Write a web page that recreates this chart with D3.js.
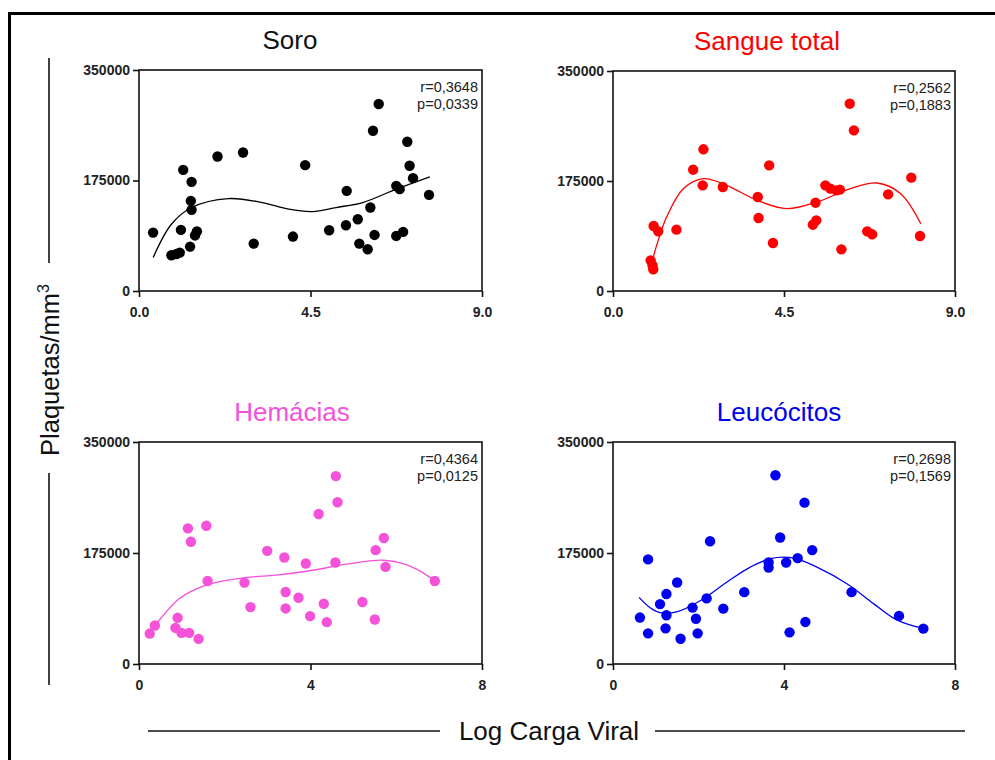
<!DOCTYPE html>
<html>
<head>
<meta charset="utf-8">
<script src="https://cdn.jsdelivr.net/npm/d3@7"></script>
<style>
  body { margin: 0; background: #fff; }
  text { font-family: Arial, "Liberation Sans", sans-serif; }
</style>
</head>
<body>
<div id="chart"></div>
<script>
// values (x = log viral load, y = platelets/mm3)
const soroX = [0.37, 0.85, 0.98, 1.07, 1.10, 1.16, 1.34, 1.36, 1.38, 1.38, 1.47, 1.52, 2.06, 2.73, 3.01, 4.04, 4.36, 4.99, 5.43, 5.45, 5.74, 5.78, 6.00, 6.07, 6.18, 6.14, 6.29, 6.75, 6.93, 6.75, 6.84, 7.04, 7.10, 7.19, 7.61];
const soroY = [92500, 56600, 58500, 60800, 96800, 191900, 70300, 142700, 172900, 128500, 88000, 94500, 213000, 219400, 75100, 86200, 199300, 96200, 104200, 158600, 113700, 75100, 66100, 132200, 88800, 253800, 296100, 87200, 93600, 166500, 161300, 236300, 198300, 178700, 152300];
const soroFitX = [0.37, 0.85, 1.38, 2.35, 3.23, 3.93, 4.55, 5.17, 5.87, 6.75, 7.63];
const soroFitY = [52900, 105700, 132200, 146400, 140100, 129500, 125800, 132200, 140100, 161300, 180800];

const sangueX = [0.99, 1.04, 1.06, 1.07, 1.19, 1.67, 2.11, 2.38, 2.36, 2.89, 3.81, 3.83, 4.11, 4.21, 5.26, 5.35, 5.33, 5.59, 5.72, 5.88, 5.97, 6.01, 6.23, 6.34, 6.69, 6.82, 7.24, 7.85, 8.08];
const sangueY = [48800, 40800, 34500, 103400, 94900, 97600, 193000, 225400, 168100, 165500, 149500, 116100, 199900, 76400, 105500, 112400, 140500, 168100, 162800, 160100, 161200, 66300, 298000, 255600, 94900, 90200, 153800, 180300, 87500];
const sangueFitX = [1.06, 1.19, 1.41, 1.85, 2.38, 2.99, 3.79, 4.58, 5.37, 6.25, 6.95, 7.57, 8.10];
const sangueFitY = [54100, 80600, 117700, 162800, 178700, 168100, 144200, 131000, 141600, 162800, 171800, 154800, 107100];

const hemX = [0.25, 0.37, 0.90, 0.85, 0.99, 1.17, 1.39, 1.14, 1.21, 1.57, 1.60, 2.46, 2.60, 2.99, 3.39, 3.42, 3.42, 3.72, 3.89, 3.99, 4.19, 4.31, 4.38, 4.58, 4.59, 4.63, 5.21, 5.50, 5.52, 5.71, 5.75, 6.90];
const hemY = [48000, 60700, 72800, 57000, 49100, 49100, 39600, 213800, 192700, 218000, 130900, 128300, 89700, 178400, 167900, 113500, 87600, 104500, 158400, 75500, 236500, 95000, 66000, 160000, 296200, 255000, 97700, 70200, 179500, 198600, 153100, 130900];
const hemFitX = [0.21, 0.52, 0.92, 1.31, 1.78, 2.48, 3.26, 4.05, 4.83, 5.69, 6.16, 6.55, 6.90];
const hemFitY = [46500, 72900, 101900, 117700, 128300, 136200, 140400, 147800, 157300, 163600, 158400, 146800, 130900];

const leucoX = [0.63, 0.82, 0.82, 1.10, 1.25, 1.25, 1.23, 1.50, 1.58, 1.86, 1.94, 1.98, 2.19, 2.27, 2.58, 3.07, 3.64, 3.64, 3.80, 3.91, 4.05, 4.13, 4.32, 4.48, 4.50, 4.66, 5.58, 6.69, 7.26];
const leucoY = [73200, 164900, 48300, 94400, 110300, 76900, 56200, 128500, 39800, 88900, 71400, 48300, 103400, 193500, 87300, 113300, 160000, 152000, 297500, 199400, 160000, 49900, 166900, 254400, 66300, 179600, 113300, 75800, 55700];
const leucoFitX = [0.61, 0.86, 1.10, 1.49, 2.04, 2.66, 3.21, 3.68, 4.23, 4.77, 5.48, 6.11, 6.58, 7.04, 7.26];
const leucoFitY = [105000, 89100, 81100, 82200, 99700, 128900, 152700, 166000, 167000, 152700, 126200, 94400, 71600, 59900, 57300];

const titles = ["Soro", "Sangue total", "Hemácias", "Leucócitos"];
const colors = ["#000000", "#ff0000", "#f452d8", "#0000f0"];
const stats = [["r=0,3648", "p=0,0339"], ["r=0,2562", "p=0,1883"], ["r=0,4364", "p=0,0125"], ["r=0,2698", "p=0,1569"]];
const yTicks = [0, 175000, 350000];
const xTicksTop = [0, 4.5, 9];
const xTicksBottom = [0, 4, 8];

const W = 995, H = 760;
const svg = d3.select("#chart").append("svg")
  .attr("width", W).attr("height", H);

// outer frame
svg.append("rect")
  .attr("x", 9.5).attr("y", 13.5)
  .attr("width", W + 20).attr("height", H + 20)
  .attr("fill", "none").attr("stroke", "#000").attr("stroke-width", 3);

const panels = [
  {xs: soroX, ys: soroY, fx: soroFitX, fy: soroFitY, x0: 139, x1: 482, y0: 70, y1: 291, xmax: 9, xt: xTicksTop, fmt: d3.format(".1f"), tx: 290},
  {xs: sangueX, ys: sangueY, fx: sangueFitX, fy: sangueFitY, x0: 613, x1: 955, y0: 71, y1: 291, xmax: 9, xt: xTicksTop, fmt: d3.format(".1f"), tx: 767},
  {xs: hemX, ys: hemY, fx: hemFitX, fy: hemFitY, x0: 139, x1: 482, y0: 442, y1: 664, xmax: 8, xt: xTicksBottom, fmt: d3.format("d"), tx: 292},
  {xs: leucoX, ys: leucoY, fx: leucoFitX, fy: leucoFitY, x0: 613, x1: 955, y0: 442, y1: 664, xmax: 8, xt: xTicksBottom, fmt: d3.format("d"), tx: 779}
];

panels.forEach((p, i) => {
  const x = d3.scaleLinear().domain([0, p.xmax]).range([p.x0, p.x1]);
  const y = d3.scaleLinear().domain([0, 350000]).range([p.y1, p.y0]);
  const g = svg.append("g");

  // title
  g.append("text")
    .attr("x", p.tx).attr("y", p.y0 - 21)
    .attr("text-anchor", "middle")
    .attr("font-size", 26)
    .attr("fill", colors[i] === "#000000" ? "#111" : colors[i])
    .text(titles[i]);

  // box
  g.append("rect")
    .attr("x", p.x0).attr("y", p.y0)
    .attr("width", p.x1 - p.x0).attr("height", p.y1 - p.y0)
    .attr("fill", "none").attr("stroke", "#111").attr("stroke-width", 1.6);

  // axes
  const ya = g.append("g")
    .attr("transform", `translate(${p.x0},0)`)
    .call(d3.axisLeft(y).tickValues(yTicks).tickFormat(d3.format("d")).tickSize(6).tickPadding(3));
  const xa = g.append("g")
    .attr("transform", `translate(0,${p.y1})`)
    .call(d3.axisBottom(x).tickValues(p.xt).tickFormat(p.fmt).tickSize(6).tickPadding(10));
  [ya, xa].forEach(a => {
    a.select(".domain").remove();
    a.selectAll("line").attr("stroke", "#111").attr("stroke-width", 1.6);
    a.selectAll("text")
      .attr("font-size", 14)
      .attr("font-weight", "bold")
      .attr("font-family", "Arial, 'Liberation Sans', sans-serif")
      .attr("fill", "#222");
  });

  // fit curve
  const line = d3.line()
    .x(d => x(d[0])).y(d => y(d[1]))
    .curve(d3.curveCatmullRom);
  g.append("path")
    .datum(p.fx.map((v, k) => [v, p.fy[k]]))
    .attr("d", line)
    .attr("fill", "none")
    .attr("stroke", colors[i])
    .attr("stroke-width", 1.3);

  // points
  g.selectAll("circle.pt")
    .data(p.xs.map((v, k) => [v, p.ys[k]]))
    .join("circle")
    .attr("class", "pt")
    .attr("cx", d => x(d[0])).attr("cy", d => y(d[1]))
    .attr("r", 5.2)
    .attr("fill", colors[i]);

  // r and p
  stats[i].forEach((s, k) => {
    g.append("text")
      .attr("x", p.x1 - 4).attr("y", p.y0 + 22 + k * 17)
      .attr("text-anchor", "end")
      .attr("font-size", 14.5)
      .attr("fill", "#222")
      .text(s);
  });
});

// y axis title with side rules
svg.append("line").attr("x1", 49).attr("x2", 49).attr("y1", 58).attr("y2", 263)
  .attr("stroke", "#111").attr("stroke-width", 1.6);
svg.append("line").attr("x1", 49).attr("x2", 49).attr("y1", 473).attr("y2", 685)
  .attr("stroke", "#111").attr("stroke-width", 1.6);
const yl = svg.append("text")
  .attr("transform", "translate(59,370) rotate(-90)")
  .attr("text-anchor", "middle")
  .attr("font-size", 25.5)
  .attr("fill", "#111");
yl.append("tspan").text("Plaquetas/mm");
yl.append("tspan").attr("font-size", 16).attr("dy", -10).text("3");

// x axis title with side rules
svg.append("line").attr("x1", 148).attr("x2", 440).attr("y1", 731).attr("y2", 731)
  .attr("stroke", "#111").attr("stroke-width", 1.6);
svg.append("line").attr("x1", 655).attr("x2", 965).attr("y1", 731).attr("y2", 731)
  .attr("stroke", "#111").attr("stroke-width", 1.6);
svg.append("text")
  .attr("x", 549).attr("y", 740)
  .attr("text-anchor", "middle")
  .attr("font-size", 26)
  .attr("fill", "#111")
  .text("Log Carga Viral");
</script>
</body>
</html>
